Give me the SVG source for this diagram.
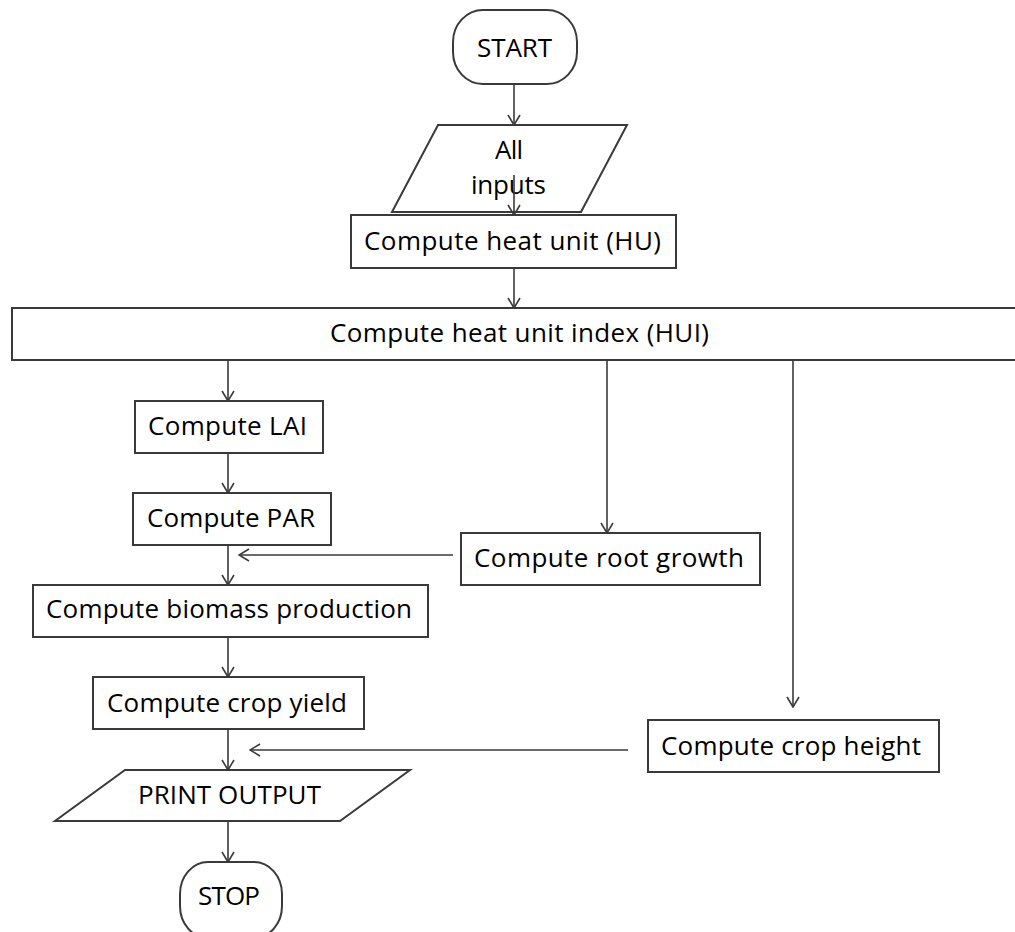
<svg xmlns="http://www.w3.org/2000/svg" width="1015" height="932" viewBox="0 0 1015 932">
<style>
  .box { fill: #ffffff; stroke: #3a3a3a; stroke-width: 2; }
  .lbl { font-family: "Open Sans", "Liberation Sans", sans-serif; font-size: 26px; fill: #000000; text-anchor: middle; }
  .conn { fill: none; stroke: #3a3a3a; stroke-width: 1.6; marker-end: url(#arr); }
</style>
<defs>
  <marker id="arr" markerUnits="userSpaceOnUse" markerWidth="12" markerHeight="14" refX="11" refY="7" orient="auto">
    <path d="M1,1 L11,7 L1,13" fill="none" stroke="#3a3a3a" stroke-width="1.6"/>
  </marker>
</defs>
<rect width="1015" height="932" fill="#ffffff"/>

<g id="start">
  <rect class="box" x="453" y="10" width="124" height="74" rx="30" ry="32"/>
  <text class="lbl" x="514.5" y="57" textLength="75" lengthAdjust="spacing">START</text>
</g>
<g id="inputs">
  <polygon class="box" points="438,125 627,125 581,212 392,212"/>
  <text class="lbl" x="509" y="159" textLength="28" lengthAdjust="spacing">All</text>
  <text class="lbl" x="508.5" y="194" textLength="75" lengthAdjust="spacing">inputs</text>
</g>
<g id="hu">
  <rect class="box" x="351" y="215" width="325" height="53"/>
  <text class="lbl" x="512.5" y="250" textLength="297" lengthAdjust="spacing">Compute heat unit (HU)</text>
</g>
<g id="hui">
  <rect class="box" x="12" y="308" width="1010" height="52"/>
  <text class="lbl" x="519.5" y="342" textLength="379" lengthAdjust="spacing">Compute heat unit index (HUI)</text>
</g>
<g id="lai">
  <rect class="box" x="135" y="401" width="188" height="52"/>
  <text class="lbl" x="227.5" y="435" textLength="159" lengthAdjust="spacing">Compute LAI</text>
</g>
<g id="par">
  <rect class="box" x="133" y="493" width="198" height="52"/>
  <text class="lbl" x="231" y="527" textLength="168" lengthAdjust="spacing">Compute PAR</text>
</g>
<g id="biomass">
  <rect class="box" x="33" y="585" width="395" height="52"/>
  <text class="lbl" x="229" y="618" textLength="366" lengthAdjust="spacing">Compute biomass production</text>
</g>
<g id="yield">
  <rect class="box" x="93" y="677" width="271" height="52"/>
  <text class="lbl" x="227" y="712" textLength="240" lengthAdjust="spacing">Compute crop yield</text>
</g>
<g id="print">
  <polygon class="box" points="125,770 410,770 340,821 55,821"/>
  <text class="lbl" x="229.5" y="804" textLength="183" lengthAdjust="spacing">PRINT OUTPUT</text>
</g>
<g id="stop">
  <rect class="box" x="180" y="862" width="102" height="76" rx="28" ry="32"/>
  <text class="lbl" x="229" y="905" textLength="62" lengthAdjust="spacing">STOP</text>
</g>
<g id="root">
  <rect class="box" x="461" y="533" width="299" height="52"/>
  <text class="lbl" x="609" y="567" textLength="270" lengthAdjust="spacing">Compute root growth</text>
</g>
<g id="height">
  <rect class="box" x="648" y="720" width="291" height="52"/>
  <text class="lbl" x="791" y="755" textLength="260" lengthAdjust="spacing">Compute crop height</text>
</g>

<g id="connectors">
  <line class="conn" x1="514" y1="84" x2="514" y2="125"/>
  <line class="conn" x1="514" y1="175" x2="514" y2="215"/>
  <line class="conn" x1="514" y1="268" x2="514" y2="308"/>
  <line class="conn" x1="228" y1="360" x2="228" y2="401"/>
  <line class="conn" x1="228" y1="453" x2="228" y2="493"/>
  <line class="conn" x1="228" y1="545" x2="228" y2="585"/>
  <line class="conn" x1="228" y1="637" x2="228" y2="677"/>
  <line class="conn" x1="228" y1="729" x2="228" y2="770"/>
  <line class="conn" x1="228" y1="821" x2="228" y2="862"/>
  <line class="conn" x1="607" y1="360" x2="607" y2="533"/>
  <line class="conn" x1="793" y1="360" x2="793" y2="707"/>
  <line class="conn" x1="453" y1="555" x2="239" y2="555"/>
  <line class="conn" x1="628" y1="750" x2="250" y2="750"/>
</g>
</svg>
